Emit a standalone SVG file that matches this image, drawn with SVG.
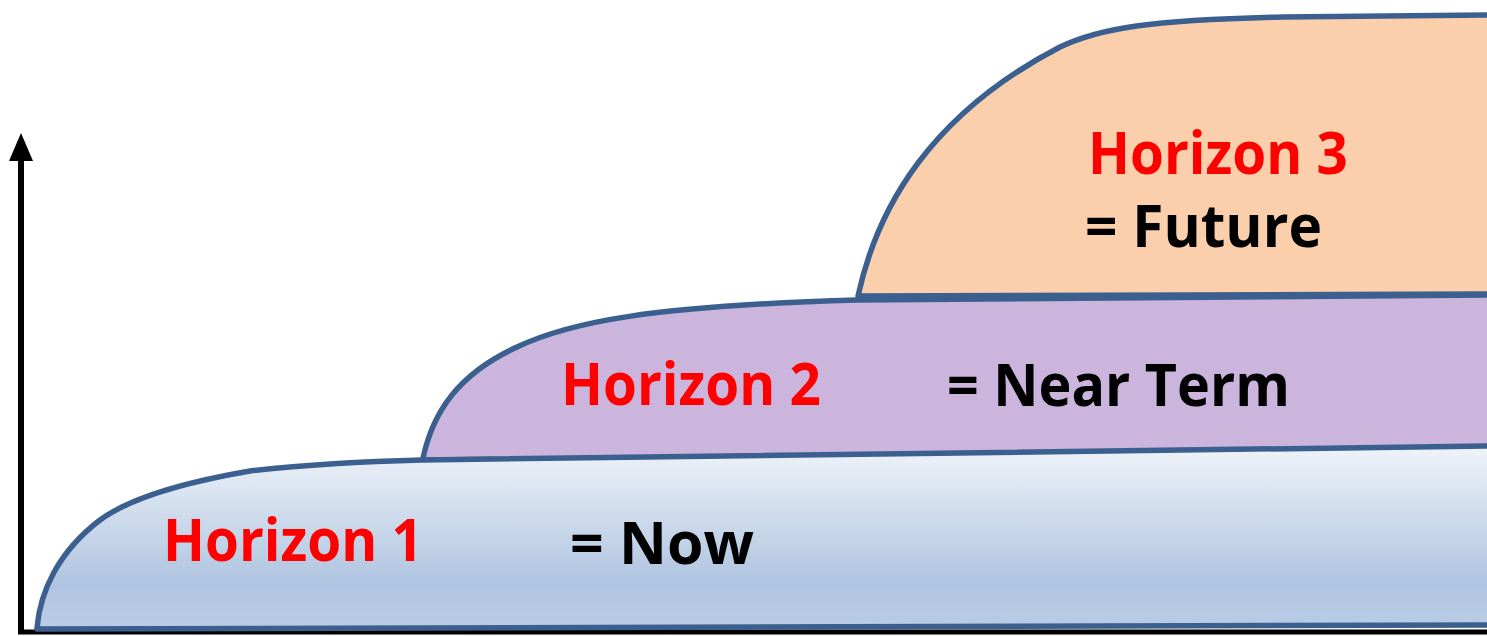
<svg xmlns="http://www.w3.org/2000/svg" width="1487" height="636" viewBox="0 0 1487 636">
<defs>
<linearGradient id="gBlue" gradientUnits="userSpaceOnUse" x1="0" y1="446" x2="0" y2="630">
<stop offset="0" stop-color="#EFF3F9"/>
<stop offset="0.75" stop-color="#AFC4E0"/>
<stop offset="1" stop-color="#BBCDE5"/>
</linearGradient>
<style>
.band{stroke:#3B6090;stroke-width:5.5;stroke-linejoin:round;stroke-linecap:round}
.t{font-family:"Open Sans","Liberation Sans",sans-serif;font-weight:bold;font-size:59px}
.red{fill:#FF0000}
.blk{fill:#000000}
.axis{stroke:#000;stroke-width:6;fill:none}
</style>
</defs>
<rect width="1487" height="636" fill="#FFFFFF"/>
<g id="axes">
<line class="axis" x1="21" y1="156" x2="21" y2="632"/>
<line class="axis" x1="18" y1="632" x2="1487" y2="632" style="stroke-width:5"/>
<polygon points="21,133 9,161 33,161" fill="#000"/>
</g>
<g id="horizon2">
<path class="band" fill="#CBB5DC" d="M423,458 C433,412 458,374 517,347 C570,322 650,306 857,300 L1490,295 L1490,452 L423,460 Z"/>
<text class="t red" x="561" y="405" textLength="260" lengthAdjust="spacingAndGlyphs">Horizon 2</text>
<text class="t blk" x="947" y="406" textLength="343" lengthAdjust="spacingAndGlyphs">= Near Term</text>
</g>
<g id="horizon3">
<path class="band" fill="#FBCEAC" d="M858,296 C868,250 888,203 918,163 C952,118 1000,78 1060,47 C1100,28 1150,20 1283,17 L1490,15 L1490,294 L858,296 Z"/>
<text class="t red" x="1088" y="174" textLength="260" lengthAdjust="spacingAndGlyphs">Horizon 3</text>
<text class="t blk" x="1085" y="247" textLength="237" lengthAdjust="spacingAndGlyphs">= Future</text>
</g>
<g id="horizon1">
<path class="band" fill="url(#gBlue)" d="M37,628 C40,592 58,552 100,520 C130,498 180,483 250,471 C320,463 380,461 422,460 L1490,446 L1490,625 L37,629 Z"/>
<text class="t red" x="163" y="561" textLength="260" lengthAdjust="spacingAndGlyphs">Horizon 1</text>
<text class="t blk" x="570" y="564" textLength="184" lengthAdjust="spacingAndGlyphs">= Now</text>
</g>
</svg>
